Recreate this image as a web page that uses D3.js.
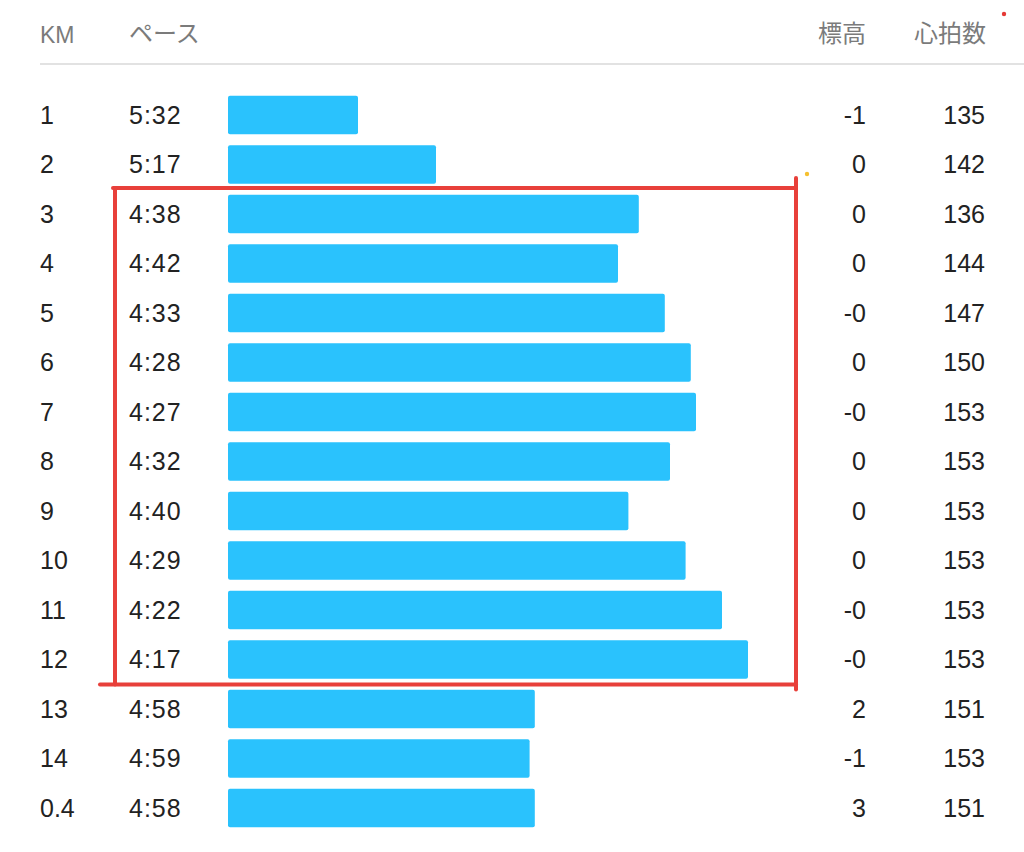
<!DOCTYPE html>
<html>
<head>
<meta charset="utf-8">
<script src="https://cdn.jsdelivr.net/npm/d3@7/dist/d3.min.js"></script>
<style>
  html, body { margin: 0; padding: 0; background: #fff; }
  svg { display: block; }
  text { font-family: "Liberation Sans", "Noto Sans CJK JP", sans-serif; }
</style>
</head>
<body>
<svg id="chart" width="1024" height="852"></svg>
<script>
// ---- data ----
const kmLabels   = ["1","2","3","4","5","6","7","8","9","10","11","12","13","14","0.4"];
const paces      = ["5:32","5:17","4:38","4:42","4:33","4:28","4:27","4:32","4:40","4:29","4:22","4:17","4:58","4:59","4:58"];
const elevations = ["-1","0","0","0","-0","0","-0","0","0","0","-0","-0","2","-1","3"];
const heartRates = [135,142,136,144,147,150,153,153,153,153,153,153,151,153,151];
const headers    = ["KM","ペース","標高","心拍数"];
const highlightRows = ["3","12"]; // annotated range

const paceSec = paces.map(p => { const [m, s] = p.split(":").map(Number); return m * 60 + s; });
const rows = kmLabels.map((k, i) => ({ km: k, pace: paces[i], sec: paceSec[i], elev: elevations[i], hr: heartRates[i] }));

// ---- layout ----
const svg = d3.select("#chart");
const barX0 = 228, barH = 38.5;
const y = d3.scalePoint().domain(kmLabels).range([115, 808]);
const x = d3.scaleLinear().domain([357, 257]).range([0, 520]);

const textColor = "#222", headColor = "#7b7b7b";
const barColor = "#2ac2fd";

// header
const head = svg.append("g").attr("fill", headColor).attr("font-size", 23);
head.append("text").attr("x", 40).attr("y", 43).text(headers[0]);
head.append("text").attr("x", 129).attr("y", 42).attr("font-size", 24).text(headers[1]);
head.append("text").attr("x", 866).attr("y", 42).attr("font-size", 24).attr("text-anchor", "end").text(headers[2]);
head.append("text").attr("x", 986).attr("y", 42).attr("font-size", 24).attr("text-anchor", "end").text(headers[3]);

svg.append("line").attr("x1", 40).attr("x2", 1024).attr("y1", 64).attr("y2", 64)
  .attr("stroke", "#e2e2e2").attr("stroke-width", 2);

// bars
svg.append("g").selectAll("rect").data(rows).join("rect")
  .attr("x", barX0)
  .attr("y", d => y(d.km) - barH / 2)
  .attr("width", d => x(d.sec))
  .attr("height", barH)
  .attr("rx", 2).attr("ry", 2)
  .attr("fill", barColor);

// text columns
const tg = svg.append("g").attr("fill", textColor).attr("font-size", 25);
tg.selectAll(".km").data(rows).join("text").attr("class", "km")
  .attr("x", 40).attr("y", d => y(d.km)).attr("dy", "0.35em").text(d => d.km);
tg.selectAll(".pace").data(rows).join("text").attr("class", "pace")
  .attr("x", 129).attr("y", d => y(d.km)).attr("dy", "0.35em")
  .attr("letter-spacing", 1).text(d => d.pace);
tg.selectAll(".elev").data(rows).join("text").attr("class", "elev")
  .attr("x", 866).attr("y", d => y(d.km)).attr("dy", "0.35em")
  .attr("text-anchor", "end").text(d => d.elev);
tg.selectAll(".hr").data(rows).join("text").attr("class", "hr")
  .attr("x", 985).attr("y", d => y(d.km)).attr("dy", "0.35em")
  .attr("text-anchor", "end").text(d => d.hr);

// hand-drawn highlight annotation
const boxTop = y(highlightRows[0]) - 26, boxBot = y(highlightRows[1]) + 25;
const red = "#e8403a";
const ann = svg.append("g").attr("stroke", red).attr("stroke-width", 4).attr("stroke-linecap", "round");
ann.append("line").attr("x1", 113).attr("x2", 796).attr("y1", boxTop).attr("y2", boxTop);
ann.append("line").attr("x1", 115).attr("x2", 115).attr("y1", boxTop).attr("y2", boxBot);
ann.append("line").attr("x1", 100).attr("x2", 796).attr("y1", boxBot).attr("y2", boxBot);
ann.append("line").attr("x1", 796).attr("x2", 796).attr("y1", boxTop - 10).attr("y2", boxBot + 5);

svg.append("circle").attr("cx", 807).attr("cy", 174).attr("r", 2.2).attr("fill", "#f5c030");
svg.append("circle").attr("cx", 1004).attr("cy", 14).attr("r", 2.2).attr("fill", "#e53935");
</script>
</body>
</html>
